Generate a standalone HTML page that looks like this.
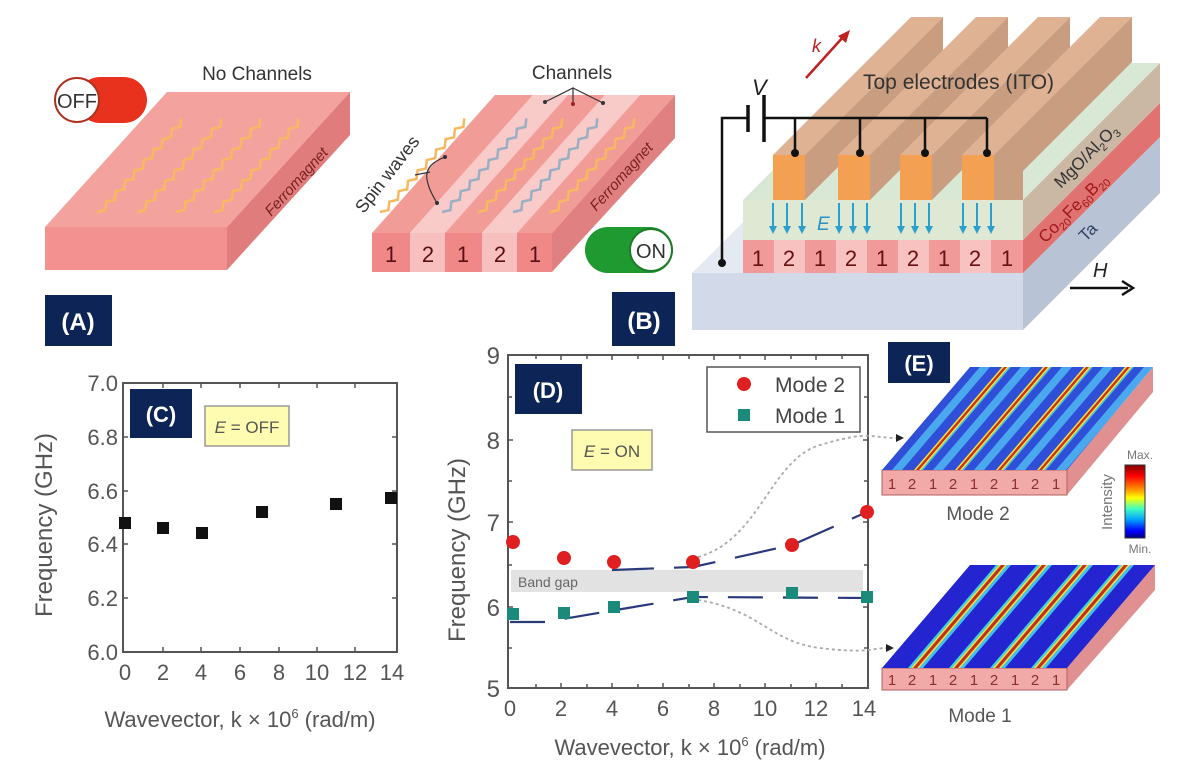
<!DOCTYPE html>
<html><head><meta charset="utf-8"><style>
html,body{margin:0;padding:0;background:#fff}
svg{display:block}
text{font-family:"Liberation Sans",sans-serif}
</style></head><body>
<svg width="1200" height="773" viewBox="0 0 1200 773" xmlns="http://www.w3.org/2000/svg">
<defs>
<pattern id="m2" patternUnits="userSpaceOnUse" width="41" height="10" patternTransform="translate(882,470) skewX(-40.5)">
<rect x="0" y="0" width="10" height="10" fill="#2f4fd8"/><rect x="10" y="0" width="10" height="10" fill="#4aa8ee"/><rect x="20" y="0" width="12" height="10" fill="#2f4fd8"/><rect x="32" y="0" width="2" height="10" fill="#f0e040"/><rect x="34" y="0" width="3" height="10" fill="#c83020"/><rect x="37" y="0" width="2" height="10" fill="#f0e040"/><rect x="39" y="0" width="2" height="10" fill="#40c0e0"/>
</pattern>
<pattern id="m1" patternUnits="userSpaceOnUse" width="41" height="10" patternTransform="translate(882,668) skewX(-40.5)">
<rect x="0" y="0" width="26" height="10" fill="#2424d0"/><rect x="26" y="0" width="3" height="10" fill="#40d0e0"/><rect x="29" y="0" width="2" height="10" fill="#f0e040"/><rect x="31" y="0" width="4" height="10" fill="#c03020"/><rect x="35" y="0" width="2" height="10" fill="#f0e040"/><rect x="37" y="0" width="4" height="10" fill="#40c0f0"/>
</pattern>
<linearGradient id="cb" x1="0" y1="0" x2="0" y2="1">
<stop offset="0" stop-color="#800000"/><stop offset="0.15" stop-color="#ff0000"/><stop offset="0.35" stop-color="#ffa000"/><stop offset="0.45" stop-color="#ffff00"/><stop offset="0.6" stop-color="#40ffc0"/><stop offset="0.75" stop-color="#00a0ff"/><stop offset="0.9" stop-color="#0000ff"/><stop offset="1" stop-color="#000080"/>
</linearGradient>
<g id="ea"><line x1="0" y1="203" x2="0" y2="228" stroke="#2aa0d0" stroke-width="2"/><polygon points="-4,226 4,226 0,234" fill="#2aa0d0"/></g>
<path id="zz" d="M0,0 l5,-7 l-5,-7 l5,-7 l-5,-7 l5,-7 l-5,-7 l5,-7 l-5,-7 l5,-7 l-5,-7 l5,-7 l-5,-7 l5,-7 l-5,-7 l5,-7 l-5,-7 l5,-7 l-5,-7"/>
</defs>

<!-- ============ Panel A ============ -->
<polygon points="45,227 227,227 227,270 45,270" fill="#f39090"/>
<polygon points="350,92 350,135 227,270 227,227" fill="#e07c7c"/>
<polygon points="167,92 350,92 227,227 45,227" fill="#f4a29e"/>
<text x="300" y="185" font-size="15" font-style="italic" fill="#7a2020" transform="rotate(-48 300 185)" text-anchor="middle">Ferromagnet</text>
<g fill="none" stroke="#f7b860" stroke-width="2.5">
<use href="#zz" transform="translate(97,212) rotate(42)"/>
<use href="#zz" transform="translate(137,212) rotate(42)"/>
<use href="#zz" transform="translate(176,212) rotate(42)"/>
<use href="#zz" transform="translate(214,212) rotate(42)"/>
</g>
<rect x="77" y="77" width="70" height="46" rx="23" fill="#e8321e"/>
<circle cx="77" cy="100" r="22" fill="#fff" stroke="#b03020" stroke-width="2"/>
<text x="77" y="108" font-size="20" text-anchor="middle" fill="#333">OFF</text>
<text x="257" y="80" font-size="19" text-anchor="middle" fill="#333">No Channels</text>
<rect x="45" y="295" width="67" height="51" fill="#0c2456"/>
<text x="78" y="330" font-size="24" font-weight="bold" text-anchor="middle" fill="#fff">(A)</text>

<!-- ============ Panel B left ============ -->
<polygon points="675,95 675,138 552,272 552,233" fill="#e08080"/>
<rect x="372" y="233" width="38" height="39" fill="#f08888"/>
<rect x="410" y="233" width="35" height="39" fill="#f7c0be"/>
<rect x="445" y="233" width="37" height="39" fill="#f08888"/>
<rect x="482" y="233" width="35" height="39" fill="#f7c0be"/>
<rect x="517" y="233" width="35" height="39" fill="#f08888"/>
<polygon points="372,233 410,233 533,95 495,95" fill="#f29c98"/>
<polygon points="410,233 445,233 568,95 533,95" fill="#f8cac8"/>
<polygon points="445,233 482,233 605,95 568,95" fill="#f29c98"/>
<polygon points="482,233 517,233 640,95 605,95" fill="#f8cac8"/>
<polygon points="517,233 552,233 675,95 640,95" fill="#f29c98"/>
<g font-size="22" fill="#5a1010" text-anchor="middle">
<text x="391" y="262">1</text><text x="428" y="262">2</text><text x="463" y="262">1</text><text x="500" y="262">2</text><text x="535" y="262">1</text>
</g>
<text x="625" y="180" font-size="15" font-style="italic" fill="#7a2020" transform="rotate(-48 625 180)" text-anchor="middle">Ferromagnet</text>
<g fill="none" stroke-width="2.5">
<use href="#zz" stroke="#f7b860" transform="translate(380,212) rotate(42)"/>
<use href="#zz" stroke="#9aaec4" transform="translate(442,212) rotate(42)"/>
<use href="#zz" stroke="#f7b860" transform="translate(478,212) rotate(42)"/>
<use href="#zz" stroke="#9aaec4" transform="translate(513,212) rotate(42)"/>
<use href="#zz" stroke="#f7b860" transform="translate(550,212) rotate(42)"/>
</g>
<path d="M545,102 L573,88 L573,104 M573,88 L603,103" fill="none" stroke="#333" stroke-width="1.2"/>
<circle cx="545" cy="102" r="2" fill="#333"/><circle cx="573" cy="104" r="2" fill="#a02020"/><circle cx="603" cy="103" r="2" fill="#333"/>
<path d="M445,157 C425,165 420,175 437,203" fill="none" stroke="#333" stroke-width="1.2"/>
<path d="M415,175 L430,172" stroke="#333" stroke-width="1.2"/>
<circle cx="445" cy="157" r="2" fill="#333"/><circle cx="437" cy="203" r="2" fill="#333"/>
<text x="392" y="178" font-size="18" fill="#333" text-anchor="middle" transform="rotate(-52 392 178)">Spin waves</text>
<text x="572" y="79" font-size="19" text-anchor="middle" fill="#333">Channels</text>
<rect x="585" y="227" width="88" height="46" rx="23" fill="#1e9a30"/>
<circle cx="651" cy="250" r="21" fill="#fff" stroke="#1e7a28" stroke-width="2"/>
<text x="651" y="258" font-size="20" text-anchor="middle" fill="#333">ON</text>
<rect x="612" y="292" width="63" height="54" fill="#0c2456"/>
<text x="644" y="329" font-size="24" font-weight="bold" text-anchor="middle" fill="#fff">(B)</text>

<!-- ============ Panel B right (device) ============ -->
<polygon points="692,273 1023,273 1160,137 829,137" fill="#e4e9f2"/>
<rect x="692" y="273" width="331" height="57" fill="#d2d9e8"/>
<polygon points="1023,273 1160,137 1160,193 1023,330" fill="#b9c3d6"/>
<polygon points="1023,240 1160,103 1160,137 1023,273" fill="#e07272"/>
<polygon points="1023,200 1160,63 1160,103 1023,240" fill="#cbb8a4"/>
<polygon points="743,200 1023,200 1160,63 880,63" fill="#d9e8d4"/>
<rect x="743" y="200" width="280" height="40" fill="#e3e6d0"/>
<g>
<rect x="743" y="240" width="31" height="33" fill="#f09a9a"/><rect x="774" y="240" width="31" height="33" fill="#f7c2c0"/>
<rect x="805" y="240" width="31" height="33" fill="#f09a9a"/><rect x="836" y="240" width="31" height="33" fill="#f7c2c0"/>
<rect x="867" y="240" width="31" height="33" fill="#f09a9a"/><rect x="898" y="240" width="31" height="33" fill="#f7c2c0"/>
<rect x="929" y="240" width="31" height="33" fill="#f09a9a"/><rect x="960" y="240" width="31" height="33" fill="#f7c2c0"/>
<rect x="991" y="240" width="32" height="33" fill="#f09a9a"/>
</g>
<g font-size="22" fill="#6a1010" text-anchor="middle">
<text x="758" y="266">1</text><text x="789" y="266">2</text><text x="820" y="266">1</text><text x="851" y="266">2</text><text x="882" y="266">1</text><text x="913" y="266">2</text><text x="944" y="266">1</text><text x="975" y="266">2</text><text x="1007" y="266">1</text>
</g>
<g>
<polygon points="773,155 805,155 943,17 911,17" fill="#dfb294"/><polygon points="805,155 943,17 943,62 805,200" fill="#c99e80"/><rect x="773" y="155" width="32" height="45" fill="#f4a052"/>
<polygon points="838,155 870,155 1008,17 976,17" fill="#dfb294"/><polygon points="870,155 1008,17 1008,62 870,200" fill="#c99e80"/><rect x="838" y="155" width="32" height="45" fill="#f4a052"/>
<polygon points="900,155 932,155 1070,17 1038,17" fill="#dfb294"/><polygon points="932,155 1070,17 1070,62 932,200" fill="#c99e80"/><rect x="900" y="155" width="32" height="45" fill="#f4a052"/>
<polygon points="962,155 994,155 1132,17 1100,17" fill="#dfb294"/><polygon points="994,155 1132,17 1132,62 1023,171 1023,200 994,200" fill="#c99e80"/><rect x="962" y="155" width="32" height="45" fill="#f4a052"/>
</g>
<polygon points="743,200 1023,200 1023,240 743,240" fill="#d8ecd8" opacity="0.35"/>
<use href="#ea" x="773"/><use href="#ea" x="787"/><use href="#ea" x="802"/>
<use href="#ea" x="839"/><use href="#ea" x="853"/><use href="#ea" x="867"/>
<use href="#ea" x="901"/><use href="#ea" x="915"/><use href="#ea" x="929"/>
<use href="#ea" x="963"/><use href="#ea" x="977"/><use href="#ea" x="991"/>
<text x="817" y="230" font-size="19" font-style="italic" fill="#2a90c8">E</text>
<g stroke="#111" stroke-width="2.5" fill="none">
<path d="M748,118 L722,118 L722,263"/>
<path d="M764,118 L987,118"/>
<path d="M795,118 V152 M860,118 V152 M925,118 V152 M987,118 V152"/>
<line x1="748" y1="105" x2="748" y2="132" stroke-width="3.5"/>
<line x1="764" y1="95" x2="764" y2="142" stroke-width="3.5"/>
</g>
<g fill="#111"><circle cx="722" cy="263" r="4"/><circle cx="795" cy="153" r="4"/><circle cx="860" cy="153" r="4"/><circle cx="925" cy="153" r="4"/><circle cx="987" cy="153" r="4"/></g>
<text x="752" y="95" font-size="22" font-style="italic" fill="#222">V</text>
<line x1="806" y1="78" x2="844" y2="36" stroke="#c02020" stroke-width="2.5"/>
<polygon points="850,30 838,36 846,43" fill="#c02020"/>
<text x="812" y="52" font-size="18" font-style="italic" fill="#c02020">k</text>
<text x="863" y="89" font-size="21" fill="#333">Top electrodes (ITO)</text>
<text x="1090" y="160" font-size="17" fill="#333" text-anchor="middle" transform="rotate(-45 1090 160)">MgO/Al<tspan font-size="11" dy="4">2</tspan><tspan dy="-4">O</tspan><tspan font-size="11" dy="4">3</tspan></text>
<text x="1077" y="212" font-size="17" fill="#a01818" text-anchor="middle" transform="rotate(-45 1077 212)">Co<tspan font-size="11" dy="4">20</tspan><tspan dy="-4">Fe</tspan><tspan font-size="11" dy="4">60</tspan><tspan dy="-4">B</tspan><tspan font-size="11" dy="4">20</tspan></text>
<text x="1092" y="236" font-size="17" fill="#334466" text-anchor="middle" transform="rotate(-45 1092 236)">Ta</text>
<text x="1093" y="277" font-size="20" font-style="italic" fill="#222">H</text>
<line x1="1070" y1="288" x2="1128" y2="288" stroke="#111" stroke-width="2.5"/>
<path d="M1122,281 L1133,288 L1122,295" fill="none" stroke="#111" stroke-width="2.5"/>

<!-- ============ Panel C ============ -->
<rect x="123" y="383" width="274" height="269" fill="none" stroke="#555" stroke-width="2"/>
<g stroke="#555" stroke-width="1.5">
<path d="M123,437 h5 M123,491 h5 M123,544 h5 M123,598 h5 M397,437 h-5 M397,491 h-5 M397,544 h-5 M397,598 h-5"/>
<path d="M163,652 v-5 M201,652 v-5 M240,652 v-5 M279,652 v-5 M317,652 v-5 M355,652 v-5 M163,383 v5 M201,383 v5 M240,383 v5 M279,383 v5 M317,383 v5 M355,383 v5"/>
</g>
<g font-size="22" fill="#555" text-anchor="end">
<text x="118" y="391">7.0</text><text x="118" y="445">6.8</text><text x="118" y="499">6.6</text><text x="118" y="552">6.4</text><text x="118" y="606">6.2</text><text x="118" y="660">6.0</text>
</g>
<g font-size="22" fill="#555" text-anchor="middle">
<text x="125" y="680">0</text><text x="163" y="680">2</text><text x="201" y="680">4</text><text x="240" y="680">6</text><text x="279" y="680">8</text><text x="317" y="680">10</text><text x="355" y="680">12</text><text x="392" y="680">14</text>
</g>
<text x="240" y="727" font-size="22" fill="#555" text-anchor="middle">Wavevector, k × 10<tspan font-size="13" dy="-9">6</tspan><tspan dy="9"> (rad/m)</tspan></text>
<text x="52" y="525" font-size="24" fill="#555" text-anchor="middle" transform="rotate(-90 52 525)">Frequency (GHz)</text>
<g fill="#111">
<rect x="119" y="517" width="12" height="12"/><rect x="157" y="522" width="12" height="12"/><rect x="196" y="527" width="12" height="12"/><rect x="256" y="506" width="12" height="12"/><rect x="330" y="498" width="12" height="12"/><rect x="385" y="492" width="12" height="12"/>
</g>
<rect x="130" y="389" width="62" height="49" fill="#0c2456"/>
<text x="161" y="422" font-size="22" font-weight="bold" text-anchor="middle" fill="#fff">(C)</text>
<rect x="205" y="406" width="84" height="40" fill="#fdfcb0" stroke="#999" stroke-width="1.5"/>
<text x="247" y="433" font-size="17" text-anchor="middle" fill="#555"><tspan font-style="italic">E</tspan> = OFF</text>

<!-- ============ Panel D ============ -->
<rect x="511" y="570" width="352" height="22" fill="#e2e2e2"/>
<text x="518" y="587" font-size="14" fill="#666">Band gap</text>
<rect x="508" y="355" width="360" height="333" fill="none" stroke="#555" stroke-width="2"/>
<g stroke="#555" stroke-width="1.5">
<path d="M508,397 h4 M508,440 h5 M508,481 h4 M508,522 h5 M508,565 h4 M508,607 h5 M508,648 h4 M868,397 h-4 M868,440 h-5 M868,481 h-4 M868,522 h-5 M868,565 h-4 M868,607 h-5 M868,648 h-4"/>
<path d="M536,688 v-4 M561,688 v-5 M587,688 v-4 M612,688 v-5 M638,688 v-4 M663,688 v-5 M689,688 v-4 M714,688 v-5 M740,688 v-4 M765,688 v-5 M791,688 v-4 M816,688 v-5 M842,688 v-4"/>
<path d="M536,355 v4 M561,355 v5 M587,355 v4 M612,355 v5 M638,355 v4 M663,355 v5 M689,355 v4 M714,355 v5 M740,355 v4 M765,355 v5 M791,355 v4 M816,355 v5 M842,355 v4"/>
</g>
<g font-size="24" fill="#555" text-anchor="end">
<text x="500" y="364">9</text><text x="500" y="449">8</text><text x="500" y="531">7</text><text x="500" y="616">6</text><text x="500" y="697">5</text>
</g>
<g font-size="22" fill="#555" text-anchor="middle">
<text x="510" y="716">0</text><text x="561" y="716">2</text><text x="612" y="716">4</text><text x="663" y="716">6</text><text x="714" y="716">8</text><text x="765" y="716">10</text><text x="816" y="716">12</text><text x="864" y="716">14</text>
</g>
<text x="690" y="755" font-size="22" fill="#555" text-anchor="middle">Wavevector, k × 10<tspan font-size="13" dy="-9">6</tspan><tspan dy="9"> (rad/m)</tspan></text>
<text x="465" y="550" font-size="24" fill="#555" text-anchor="middle" transform="rotate(-90 465 550)">Frequency (GHz)</text>
<g fill="none" stroke="#2a3a7a" stroke-width="2.2">
<path d="M612,570 L693,567 L792,545 L867,512" stroke-dasharray="42,20"/>
<path d="M510,622 L545,622 L693,597 L867,598" stroke-dasharray="35,20"/>
</g>
<g fill="none" stroke="#aaa" stroke-width="1.8" stroke-dasharray="3,3">
<path d="M698,557 C760,540 770,460 820,445 S870,438 898,438"/>
<path d="M698,600 C760,610 770,642 820,648 S870,648 888,648"/>
</g>
<polygon points="896,434 904,438 896,442" fill="#222"/>
<polygon points="886,644 894,648 886,652" fill="#222"/>
<g fill="#e02020">
<circle cx="513" cy="542" r="7"/><circle cx="564" cy="558" r="7"/><circle cx="614" cy="562" r="7"/><circle cx="693" cy="562" r="7"/><circle cx="792" cy="545" r="7"/><circle cx="867" cy="512" r="7"/>
</g>
<g fill="#1a8a7a">
<rect x="507" y="608" width="12" height="12"/><rect x="558" y="607" width="12" height="12"/><rect x="608" y="601" width="12" height="12"/><rect x="687" y="591" width="12" height="12"/><rect x="786" y="587" width="12" height="12"/><rect x="861" y="591" width="12" height="12"/>
</g>
<rect x="707" y="367" width="153" height="65" fill="#fff" stroke="#555" stroke-width="1.5"/>
<circle cx="744" cy="384" r="7" fill="#e02020"/>
<rect x="738" y="409" width="12" height="12" fill="#1a8a7a"/>
<text x="775" y="392" font-size="21" fill="#444">Mode 2</text>
<text x="775" y="423" font-size="21" fill="#444">Mode 1</text>
<rect x="515" y="364" width="67" height="50" fill="#0c2456"/>
<text x="548" y="398" font-size="22" font-weight="bold" text-anchor="middle" fill="#fff">(D)</text>
<rect x="572" y="430" width="80" height="40" fill="#fdfcb0" stroke="#999" stroke-width="1.5"/>
<text x="612" y="457" font-size="17" text-anchor="middle" fill="#555"><tspan font-style="italic">E</tspan> = ON</text>

<!-- ============ Panel E ============ -->
<polygon points="1153,367 1153,392 1067,495 1067,470" fill="#e09090"/>
<rect x="882" y="470" width="185" height="25" fill="#f2aaa8" stroke="#b06060" stroke-width="1"/>
<polygon points="970,367 1153,367 1067,470 882,470" fill="url(#m2)"/>
<g font-size="15" fill="#8a3030" text-anchor="middle">
<text x="892" y="489">1</text><text x="912" y="489">2</text><text x="933" y="489">1</text><text x="953" y="489">2</text><text x="974" y="489">1</text><text x="994" y="489">2</text><text x="1015" y="489">1</text><text x="1035" y="489">2</text><text x="1056" y="489">1</text>
</g>
<text x="978" y="520" font-size="19" fill="#555" text-anchor="middle">Mode 2</text>

<polygon points="1155,565 1155,590 1067,690 1067,668" fill="#e09090"/>
<rect x="882" y="668" width="185" height="22" fill="#f2aaa8" stroke="#b06060" stroke-width="1"/>
<polygon points="970,565 1155,565 1067,668 882,668" fill="url(#m1)"/>
<g font-size="15" fill="#8a3030" text-anchor="middle">
<text x="892" y="685">1</text><text x="912" y="685">2</text><text x="933" y="685">1</text><text x="953" y="685">2</text><text x="974" y="685">1</text><text x="994" y="685">2</text><text x="1015" y="685">1</text><text x="1035" y="685">2</text><text x="1056" y="685">1</text>
</g>
<text x="980" y="722" font-size="19" fill="#555" text-anchor="middle">Mode 1</text>

<rect x="1125" y="465" width="20" height="73" fill="url(#cb)" stroke="#333" stroke-width="1"/>
<text x="1140" y="459" font-size="12" fill="#777" text-anchor="middle">Max.</text>
<text x="1140" y="553" font-size="12" fill="#777" text-anchor="middle">Min.</text>
<text x="1112" y="502" font-size="15" fill="#777" text-anchor="middle" transform="rotate(-90 1112 502)">Intensity</text>
<rect x="888" y="342" width="62" height="41" fill="#0c2456"/>
<text x="919" y="371" font-size="22" font-weight="bold" text-anchor="middle" fill="#fff">(E)</text>
</svg>
</body></html>
